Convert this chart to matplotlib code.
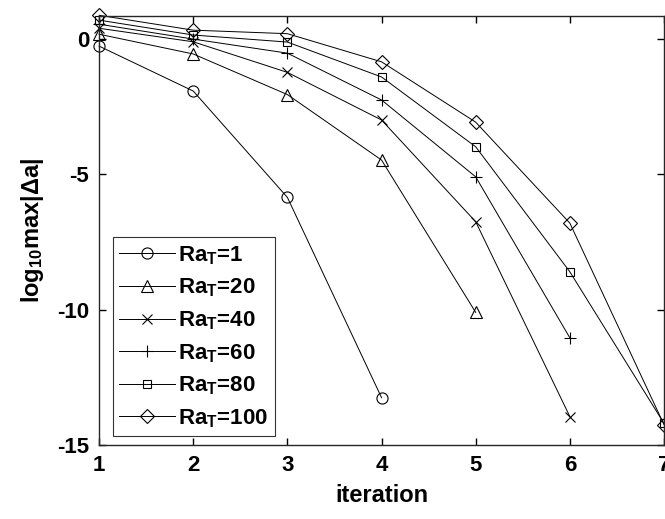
import matplotlib.pyplot as plt
import numpy as np

plt.rcParams['font.family'] = ['Liberation Sans', 'DejaVu Sans']
plt.rcParams['font.weight'] = 'bold'
plt.rcParams['axes.unicode_minus'] = False
plt.rcParams['mathtext.fontset'] = 'custom'
plt.rcParams['mathtext.rm'] = 'Liberation Sans:bold'
plt.rcParams['mathtext.bf'] = 'Liberation Sans:bold'
plt.rcParams['mathtext.it'] = 'Liberation Sans:bold'

# log10 max|delta a| per iteration for each Ra_T
labels = ['Ra$_\\mathrm{T}$=1', 'Ra$_\\mathrm{T}$=20', 'Ra$_\\mathrm{T}$=40',
          'Ra$_\\mathrm{T}$=60', 'Ra$_\\mathrm{T}$=80', 'Ra$_\\mathrm{T}$=100']
markers = ['o', '^', 'x', '+', 's', 'D']
ra1 = [-0.26, -1.92, -5.85, -13.25]
ra20 = [0.18, -0.55, -2.05, -4.47, -10.1]
ra40 = [0.40, -0.10, -1.23, -2.99, -6.75, -13.95]
ra60 = [0.55, 0.00, -0.52, -2.25, -5.09, -11.04]
ra80 = [0.70, 0.15, -0.11, -1.40, -3.98, -8.60, -14.2]
ra100 = [0.88, 0.33, 0.20, -0.84, -3.07, -6.80, -14.25]
series = [ra1, ra20, ra40, ra60, ra80, ra100]
msizes = [8, 9, 7, 9, 6, 7]

fig = plt.figure(figsize=(6.65, 5.19), dpi=100)
ax = fig.add_axes([0.149, 0.1426, 0.8495, 0.8264])

for vals, m, lab, ms in zip(series, markers, labels, msizes):
    it = np.arange(1, len(vals) + 1)
    ax.plot(it, vals, color='black', linewidth=0.7, marker=m, markersize=ms,
            markerfacecolor='none', markeredgecolor='black', markeredgewidth=0.8,
            label=lab, clip_on=False)

ax.set_xlim(1, 7)
ax.set_ylim(-15, 0.85)
ax.set_xticks([1, 2, 3, 4, 5, 6, 7])
ax.set_yticks([-15, -10, -5, 0])
ax.tick_params(direction='in', labelsize=16, width=1, length=5, top=True, right=True, pad=7)
for s in ax.spines.values():
    s.set_linewidth(1)
    s.set_color('#262626')
ax.set_xlabel('iteration', fontsize=17, fontweight='bold', labelpad=6)
ax.set_ylabel('log$_{10}$max|$\\Delta$a|', fontsize=17, fontweight='bold', labelpad=8)

leg = ax.legend(loc='lower left', bbox_to_anchor=(0.024, 0.02), fontsize=16,
                frameon=True, fancybox=False, edgecolor='black', handlelength=2.5,
                labelspacing=0.45, borderpad=0.3, handletextpad=0.15, borderaxespad=0)
leg.get_frame().set_linewidth(0.8)

fig.savefig('out.png', dpi=100)
